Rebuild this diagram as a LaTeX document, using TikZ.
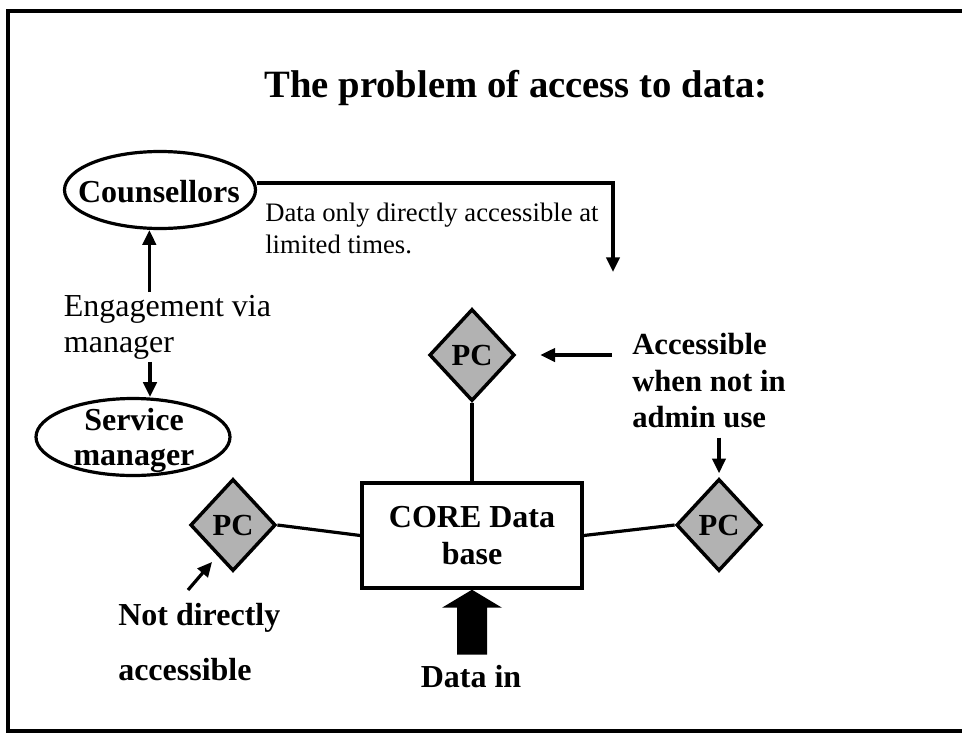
\documentclass[tikz,border=0pt]{standalone}
\usepackage{fontspec}
\setmainfont{Liberation Serif}
\usetikzlibrary{arrows.meta,shapes.geometric}

\tikzset{
  arr/.style={line width=2.4pt, -{Triangle[length=11pt,width=10pt]}},
  link/.style={line width=2.4pt},
  oval/.style={ellipse, draw, line width=2.4pt, inner sep=0pt},
  pc/.style={diamond, draw, line width=2.6pt, fill=black!30, inner sep=0pt, minimum width=64pt, minimum height=69pt, font=\bfseries\fontsize{23}{27}\selectfont},
  lbl/.style={align=left, inner sep=0pt, font=\bfseries\fontsize{24}{27.75}\selectfont},
}

\begin{document}
\begin{tikzpicture}[x=0.75pt, y=-0.75pt]
		%%%%% START %%%%%
		\useasboundingbox (0,0) rectangle (962,735);
		\draw[line width=3pt] (962,11) -- (8,11) -- (8,731) -- (962,731);
		
		\node[font=\bfseries\fontsize{29}{34}\selectfont] (title) at (516,88) {The problem of access to data:};
		
		\node[oval, minimum width=143.25pt, minimum height=57.75pt] (couns) at (160,190) {};
		\node[lbl] (counstext) at (159,192) {Counsellors};
		\node[oval, minimum width=145.5pt, minimum height=57.75pt] (serv) at (133,437) {};
		\node[lbl, align=center, font=\bfseries\fontsize{24}{26.25}\selectfont] (servtext) at (134,440) {Service\\manager};
		
		\node[align=left, anchor=west, inner sep=2pt, font=\fontsize{24}{27}\selectfont] (engage) at (61,327) {Engagement via\\manager};
		\draw[arr] ([xshift=-8pt]engage.north -| couns.south) -- ([xshift=-8pt]couns.south);
		\draw[arr] ([xshift=12.75pt]engage.south -| serv.north) -- ([xshift=12.75pt]serv.north);
		
		\coordinate (dtip) at (613,272);
		\draw[arr] ([yshift=5.25pt]couns.east) -| (dtip);
		\node[anchor=west, align=left, inner sep=0pt, font=\fontsize{20}{24}\selectfont] (note) at (265,228) {Data only directly accessible at\\limited times.};
		
		\node[pc] (pctop) at (472,355) {PC};
		\node[pc] (pcleft) at (233,525) {PC};
		\node[pc] (pcright) at (719,525) {PC};
		\node[draw, line width=2.6pt, minimum width=165pt, minimum height=78.75pt, align=center, font=\bfseries\fontsize{24}{27.75}\selectfont] (core) at (472,535.5) {CORE Data\\base};
		
		\draw[link] (pctop) -- (core);
		\draw[link] (pcleft.east) -- (core.west);
		\draw[link] (core.east) -- (pcright.west);
		
		\node[lbl, anchor=north west, font=\bfseries\fontsize{23}{27.4}\selectfont] (access) at (632,333) {Accessible\\when not in\\admin use};
		\draw[arr] ([xshift=-15pt]access.west |- pctop.east) -- ([xshift=18pt]pctop.east);
		\draw[arr] ([yshift=-7pt]access.south -| pcright.north) -- ([yshift=3pt]pcright.north);
		
		\node[lbl, anchor=north west, font=\bfseries\fontsize{24}{41.25}\selectfont] (notdir) at (118,603) {Not directly\\accessible};
		\coordinate (ndtail) at (188,590);
		\draw[arr, shorten >=6pt] (ndtail) -- (pcleft.243);
		
		\coordinate (datatip) at (core.south);
		\fill (datatip) -- ++(30,18) -- ++(-15,0) -- ++(0,47) -- ++(-30,0) -- ++(0,-47) -- ++(-15,0) -- cycle;
		\node[lbl] (datain) at (471,677) {Data in};
		%%%%% END %%%%%
\end{tikzpicture}
\end{document}
